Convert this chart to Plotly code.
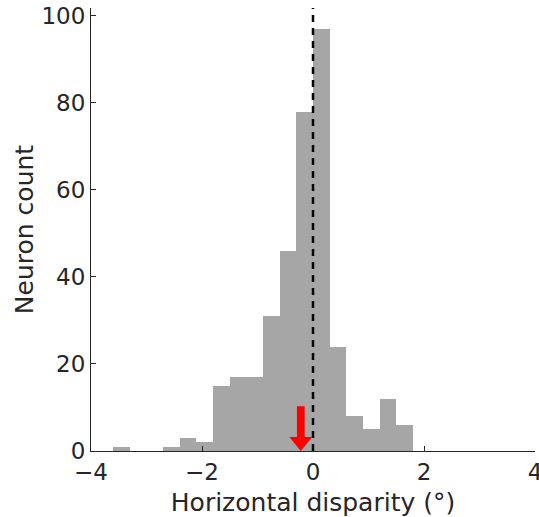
import plotly.graph_objects as go

# Histogram data
bin_start = -3.6
bin_width = 0.3
counts = [1, 0, 0, 1, 3, 2, 15, 17, 17, 31, 46, 78, 97, 24, 8, 5, 12, 6]
bin_centers = [round(bin_start + bin_width * (i + 0.5), 3) for i in range(len(counts))]

# Reference line and mean arrow
ref_x = 0
arrow_x = -0.22
arrow_top = 10.3
arrow_head_base = 3.2
arrow_shaft_half = 0.07
arrow_head_half = 0.205

x_ticks = [-4, -2, 0, 2, 4]
y_ticks = [0, 20, 40, 60, 80, 100]

fig = go.Figure()
fig.add_trace(go.Bar(
    x=bin_centers, y=counts, width=bin_width,
    marker=dict(color="#a6a6a6", line=dict(width=0)),
    showlegend=False, hoverinfo="skip",
))

ax = [arrow_x - arrow_shaft_half, arrow_x + arrow_shaft_half, arrow_x + arrow_shaft_half,
      arrow_x + arrow_head_half, arrow_x, arrow_x - arrow_head_half,
      arrow_x - arrow_shaft_half, arrow_x - arrow_shaft_half]
ay = [arrow_top, arrow_top, arrow_head_base, arrow_head_base, 0, arrow_head_base,
      arrow_head_base, arrow_top]
fig.add_trace(go.Scatter(
    x=ax, y=ay, mode="lines", fill="toself", fillcolor="#ff0000",
    line=dict(color="#ff0000", width=0), cliponaxis=False,
    showlegend=False, hoverinfo="skip",
))

fig.add_shape(type="line", xref="x", yref="paper", x0=ref_x, x1=ref_x, y0=0, y1=1,
              line=dict(color="black", width=2.5, dash="7px,6px"), layer="above")

fig.update_layout(
    width=539, height=517,
    margin=dict(l=91, r=4, t=8, b=66, autoexpand=False),
    paper_bgcolor="white", plot_bgcolor="white",
    bargap=0,
    font=dict(family="DejaVu Sans", color="#262626", size=23),
)
fig.update_xaxes(
    range=[-4, 4], tickvals=x_ticks, ticks="inside", ticklen=5, tickwidth=1,
    tickcolor="#262626", showline=True, linecolor="#262626", linewidth=1,
    showgrid=False, zeroline=False, mirror=False, ticklabeloverflow="allow",
    automargin=False,
    title=dict(text="Horizontal disparity (°)", font=dict(size=25), standoff=10),
    tickfont=dict(size=23),
)
fig.update_yaxes(
    range=[0, 101.8], tickvals=y_ticks, ticks="inside", ticklen=5, tickwidth=1,
    tickcolor="#262626", showline=True, linecolor="#262626", linewidth=1,
    showgrid=False, zeroline=False, mirror=False, automargin=False,
    title=dict(text="Neuron count", font=dict(size=25), standoff=0),
    tickfont=dict(size=23),
)

fig.write_html("out.html")
